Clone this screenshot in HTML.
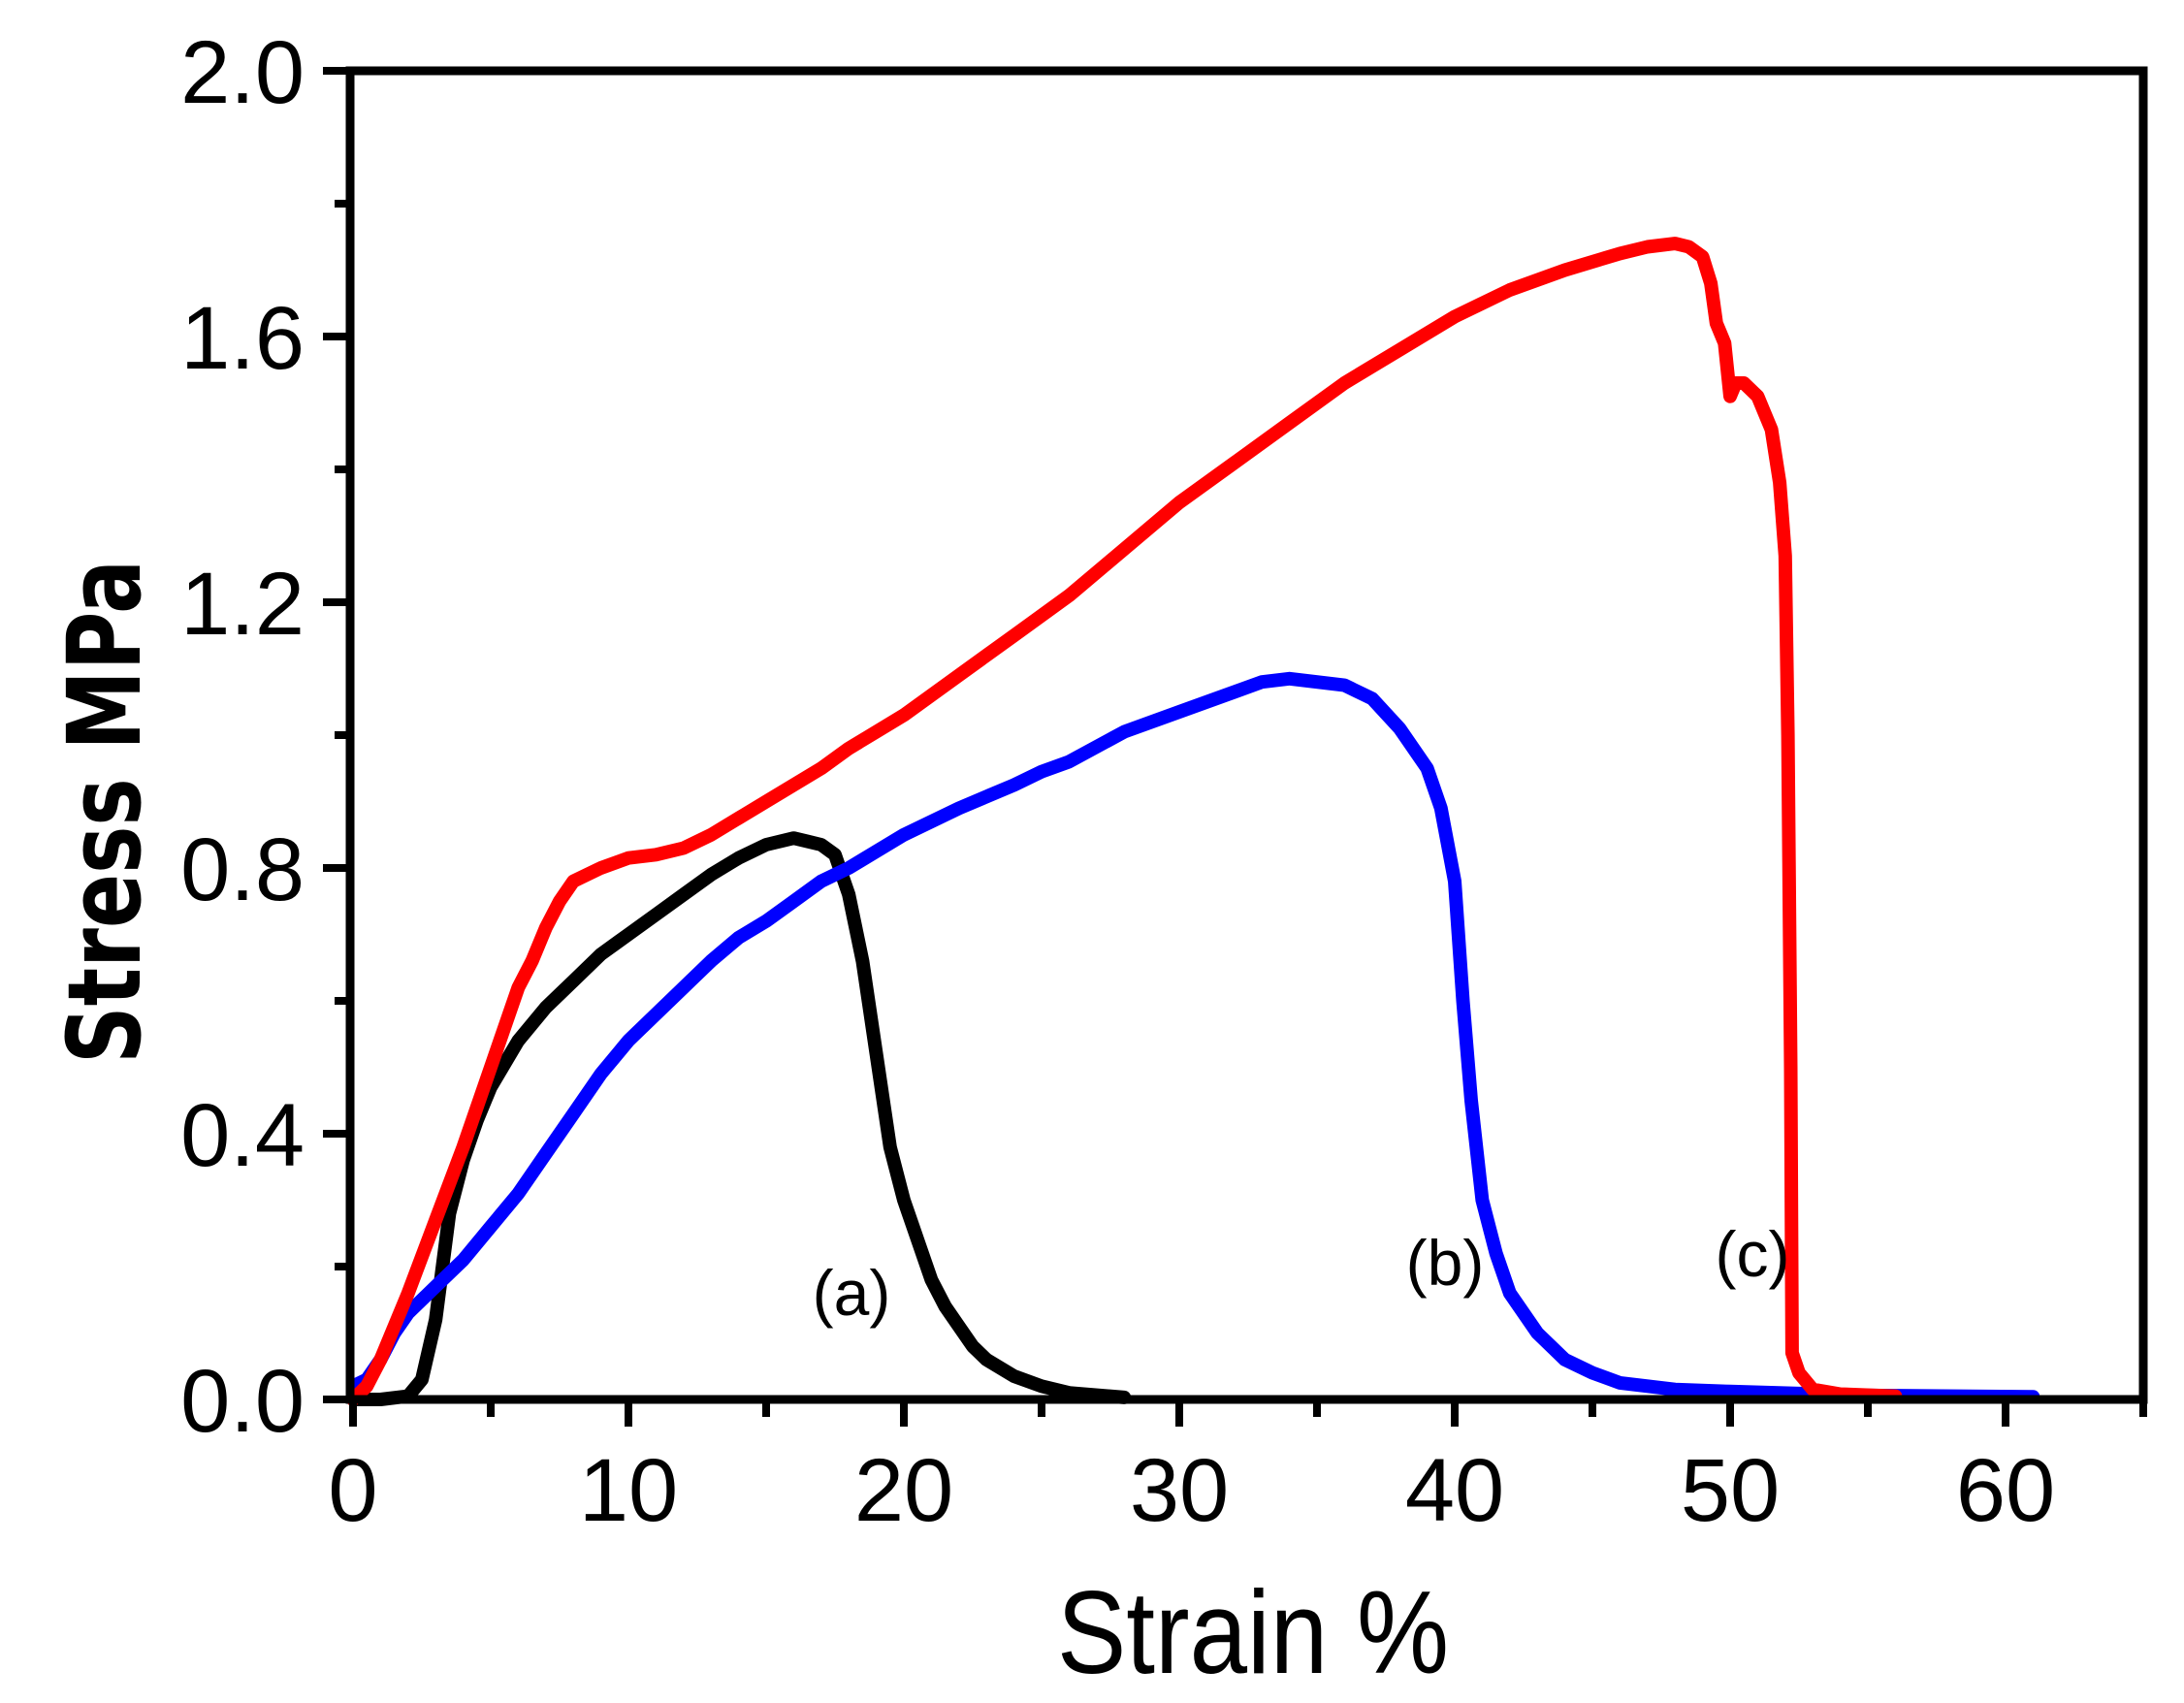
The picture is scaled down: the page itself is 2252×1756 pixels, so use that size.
<!DOCTYPE html>
<html><head><meta charset="utf-8"><style>
html,body{margin:0;padding:0;background:#fff;}
svg{display:block;}
</style></head><body>
<svg id="chart" width="2252" height="1756" viewBox="0 0 2252 1756" xmlns="http://www.w3.org/2000/svg">
<g id="plot"></g>
</svg>
<script>
const xTicks = [0,10,20,30,40,50,60];
const yTicks = [0.0,0.4,0.8,1.2,1.6,2.0];
const yTickLabels = ["0.0","0.4","0.8","1.2","1.6","2.0"];
const aStrain = [0,1,2,2.5,3,3.5,4,4.5,5,6,7,8,9,10,11,12,13,14,15,16,16.5,17,17.5,18,18.5,19,19.5,20,20.5,21,21.5,22,22.5,23,24,25,26,28];
const aStress = [0,0,0.005,0.03,0.12,0.28,0.36,0.42,0.47,0.54,0.59,0.63,0.67,0.70,0.73,0.76,0.79,0.815,0.835,0.845,0.84,0.835,0.82,0.76,0.66,0.52,0.38,0.30,0.24,0.18,0.14,0.11,0.08,0.06,0.035,0.02,0.01,0.003];
const bStrain = [0,0.5,1,1.5,2,3,4,5,6,7,8,9,10,11,12,13,14,15,16,17,18,19,20,22,24,25,26,28,30,32,33,34,35,36,37,38,39,39.5,40,40.3,40.6,41,41.5,42,43,44,45,46,48,50,55,61];
const bStress = [0.02,0.03,0.06,0.10,0.13,0.17,0.21,0.26,0.31,0.37,0.43,0.49,0.54,0.58,0.62,0.66,0.695,0.72,0.75,0.78,0.80,0.825,0.85,0.89,0.925,0.945,0.96,1.005,1.035,1.065,1.08,1.085,1.08,1.075,1.055,1.01,0.95,0.89,0.78,0.6,0.45,0.30,0.22,0.16,0.10,0.06,0.04,0.025,0.015,0.012,0.006,0.004];
const cStrain = [0,0.5,1,2,3,4,5,6,6.5,7,7.5,8,9,10,11,12,13,14,15,16,17,18,20,22,24,26,28,30,32,34,36,38,40,42,44,46,47,48,48.5,49,49.3,49.5,49.8,50,50.2,50.5,51,51.5,51.8,52,52.1,52.2,52.25,52.5,53,54,56];
const cStress = [0,0.02,0.06,0.16,0.27,0.38,0.50,0.62,0.66,0.71,0.75,0.78,0.80,0.815,0.82,0.83,0.85,0.875,0.90,0.925,0.95,0.98,1.03,1.09,1.15,1.21,1.28,1.35,1.41,1.47,1.53,1.58,1.63,1.67,1.70,1.725,1.735,1.74,1.735,1.72,1.68,1.62,1.59,1.51,1.53,1.53,1.51,1.46,1.38,1.27,1.0,0.5,0.07,0.04,0.015,0.008,0.005];

const NS="http://www.w3.org/2000/svg";
const X0=364, XS=28.4, Y0=1443, YS=685;
function sx(v){return X0+v*XS;}
function sy(v){return Y0-v*YS;}
const g=document.getElementById('plot');
function mk(tag,attrs){const e=document.createElementNS(NS,tag);for(const k in attrs)e.setAttribute(k,attrs[k]);g.appendChild(e);return e;}

function series(xs,ys,color,name){
  let d='';for(let i=0;i<xs.length;i++){d+=(i?'L':'M')+sx(xs[i]).toFixed(1)+' '+sy(ys[i]).toFixed(1);}
  const p=mk('path',{d:d,fill:'none',stroke:color,'stroke-width':14,'stroke-linejoin':'round','stroke-linecap':'round'});
  
  
}
series(aStrain,aStress,'#000','series-a-line');
series(bStrain,bStress,'#0000ff','series-b-line');
series(cStrain,cStress,'#ff0000','series-c-line');

const fr=mk('rect',{x:361,y:73,width:1849,height:1370,fill:'none',stroke:'#000','stroke-width':9});



for(let v=0;v<=65;v+=5){
  const major=v%10===0;
  const t=mk('line',{x1:sx(v),x2:sx(v),y1:Y0,y2:Y0+(major?28:18),stroke:'#000','stroke-width':8});
  
  
}
xTicks.forEach(v=>{
  const t=mk('text',{x:sx(v),y:1568,'text-anchor':'middle','font-family':'Liberation Sans Narrow, Liberation Sans, sans-serif','font-size':92});
  t.textContent=String(v);
  
  
});
for(let i=0;i<=10;i++){
  const v=i*0.2, major=i%2===0;
  const t=mk('line',{x1:361-(major?28:16),x2:361,y1:sy(v),y2:sy(v),stroke:'#000','stroke-width':8});
  
  
}
yTicks.forEach((v,i)=>{
  const t=mk('text',{x:314,y:sy(v)+33,'text-anchor':'end','font-family':'Liberation Sans Narrow, Liberation Sans, sans-serif','font-size':92});
  t.textContent=yTickLabels[i];
  
  
});
const xt=mk('text',{x:1292,y:1725,'text-anchor':'middle','font-family':'Liberation Sans, sans-serif','font-size':122,textLength:404,lengthAdjust:'spacingAndGlyphs'});
xt.textContent='Strain %';


const yt=mk('text',{x:0,y:0,'text-anchor':'middle','font-family':'DejaVu Sans, sans-serif','font-weight':'bold','font-size':104,textLength:520,lengthAdjust:'spacingAndGlyphs',transform:'translate(144,837) rotate(-90)'});
yt.textContent='Stress MPa';


[['(a)',878,1356,'label-a'],['(b)',1490,1325,'label-b'],['(c)',1807,1316,'label-c']].forEach(l=>{
  const t=mk('text',{x:l[1],y:l[2],'text-anchor':'middle','font-family':'Liberation Sans Narrow, Liberation Sans, sans-serif','font-size':66});
  t.textContent=l[0];
  
  
});
</script>
</body></html>
